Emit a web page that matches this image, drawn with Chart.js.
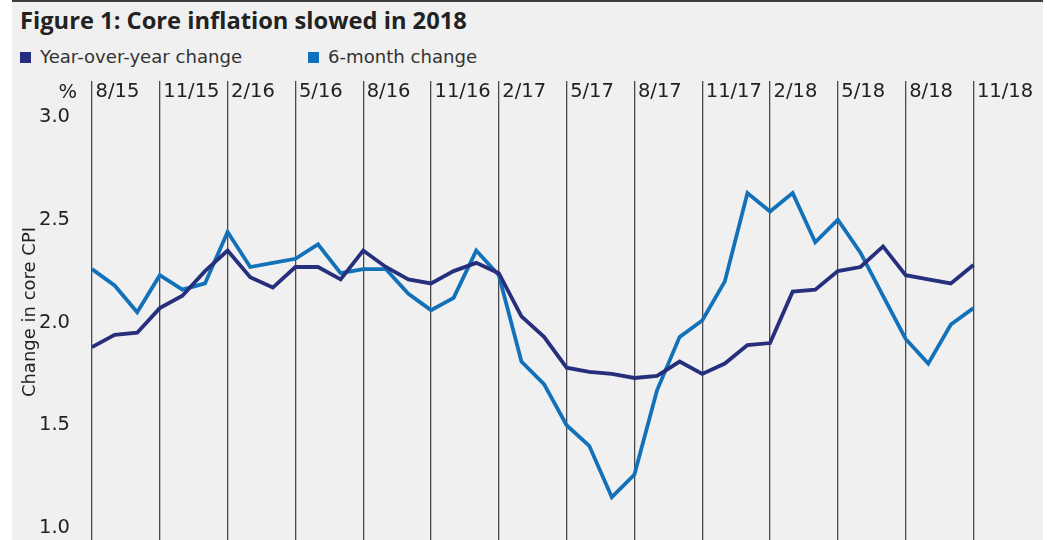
<!DOCTYPE html>
<html>
<head>
<meta charset="utf-8">
<script src="https://cdn.jsdelivr.net/npm/chart.js@4.4.1/dist/chart.umd.min.js"></script>
<style>
  body { margin: 0; width: 1047px; height: 540px; overflow: hidden; position: relative; background: #fff; font-family: "DejaVu Sans", sans-serif; }
  #panel { position: absolute; left: 12px; top: 0; width: 1031px; height: 540px; background: #f0f0f0; }
  #rule { position: absolute; left: 12px; top: 0; width: 1031px; height: 2px; background: #3d3d3d; }
  #title { position: absolute; left: 20px; top: 5px; font-family: "Open Sans", sans-serif; font-weight: bold; font-size: 23.7px; line-height: 30px; color: #222; white-space: nowrap; }
  .item { position: absolute; top: 47px; padding-left: 32px; font-size: 18.1px; line-height: 20px; color: #333; white-space: nowrap; }
  .sw { position: absolute; left: 12px; top: 5px; width: 11px; height: 11px; }
  #chart { position: absolute; left: 12px; top: 70px; }
</style>
</head>
<body>
<div id="panel"></div>
<div id="rule"></div>
<div id="title">Figure 1: Core inflation slowed in 2018</div>
<div class="item" style="left:8px;"><span class="sw" style="background:#232c7e;"></span>Year-over-year change</div>
<div class="item" style="left:296px;"><span class="sw" style="background:#1170bb;"></span>6-month change</div>
<canvas id="chart" width="1031" height="470"></canvas>
<script>
// monthly, 8/15 .. 11/18
var months = [
  "8/15", "9/15", "10/15", "11/15", "12/15",
  "1/16", "2/16", "3/16", "4/16", "5/16", "6/16", "7/16", "8/16", "9/16", "10/16", "11/16", "12/16",
  "1/17", "2/17", "3/17", "4/17", "5/17", "6/17", "7/17", "8/17", "9/17", "10/17", "11/17", "12/17",
  "1/18", "2/18", "3/18", "4/18", "5/18", "6/18", "7/18", "8/18", "9/18", "10/18", "11/18"
];

var yoyChange = [
  1.88, 1.94, 1.95, 2.07, 2.13, 2.25, 2.35, 2.22, 2.17, 2.27,
  2.27, 2.21, 2.35, 2.27, 2.21, 2.19, 2.25, 2.29, 2.24, 2.03,
  1.93, 1.78, 1.76, 1.75, 1.73, 1.74, 1.81, 1.75, 1.80, 1.89,
  1.90, 2.15, 2.16, 2.25, 2.27, 2.37, 2.23, 2.21, 2.19, 2.28
];

var sixMonthChange = [
  2.26, 2.18, 2.05, 2.23, 2.16, 2.19, 2.44, 2.27, 2.29, 2.31,
  2.38, 2.24, 2.26, 2.26, 2.14, 2.06, 2.12, 2.35, 2.23, 1.81,
  1.70, 1.50, 1.40, 1.15, 1.26, 1.67, 1.93, 2.01, 2.20, 2.63,
  2.54, 2.63, 2.39, 2.50, 2.34, 2.13, 1.92, 1.80, 1.99, 2.07
];

var yTitle = "Change in core CPI";
var unitLabel = "%";

function points(arr) {
  return arr.map(function (v, i) { return { x: i, y: v }; });
}

var tickFont = { family: "DejaVu Sans", size: 19.5 };

// "%" over the y labels and the rotated axis title
var axisText = {
  id: "axisText",
  afterDraw: function (chart) {
    var c = chart.ctx, a = chart.chartArea;
    c.save();
    c.fillStyle = "#222";
    c.font = "19.5px 'DejaVu Sans'";
    c.textAlign = "right";
    c.textBaseline = "middle";
    c.fillText(unitLabel, a.left - 15, a.top - 10.5);

    c.font = "18px 'DejaVu Sans'";
    c.translate(23, 242);
    c.rotate(-Math.PI / 2);
    c.textAlign = "center";
    c.textBaseline = "alphabetic";
    c.fillText(yTitle, 0, 0);
    c.restore();
  }
};

var ctx = document.getElementById("chart").getContext("2d");
var chart = new Chart(ctx, {
  type: "line",
  data: {
    datasets: [
      {
        label: "Year-over-year change",
        data: points(yoyChange),
        borderColor: "#262f7c",
        borderWidth: 3.8,
        pointRadius: 0,
        fill: false,
      },
      {
        label: "6-month change",
        data: points(sixMonthChange),
        borderColor: "#1271b8",
        borderWidth: 3.8,
        pointRadius: 0,
        fill: false,
      },
    ],
  },
  options: {
    responsive: false,
    animation: false,
    layout: { padding: { left: 0, right: 4, top: 0, bottom: 0 } },
    plugins: {
      legend: { display: false },
      title: { display: false },
      tooltip: { enabled: false },
    },
    scales: {
      x: {
        type: "linear",
        position: "top",
        min: 0,
        max: 41.9,
        afterFit: function (s) {
          s.height = 33;
          s.paddingLeft = 0;
          s.paddingRight = 0;
        },
        border: { display: false },
        grid: { color: "#4a4a4a", lineWidth: 1.3, tickLength: 22 },
        ticks: {
          stepSize: 3,
          includeBounds: false,
          autoSkip: false,
          maxRotation: 0,
          align: "start",
          labelOffset: 3.5,
          padding: -23,
          color: "#222",
          font: tickFont,
          callback: function (v) { return months[v]; },
        },
      },
      y: {
        min: 0.9416,
        max: 3.068,
        afterFit: function (s) {
          s.width = 80;
          s.paddingTop = 0;
          s.paddingBottom = 0;
        },
        border: { display: false },
        grid: { display: false },
        ticks: {
          stepSize: 0.5,
          includeBounds: false,
          padding: 14,
          color: "#222",
          font: tickFont,
          callback: function (v) { return v.toFixed(1); },
        },
      },
    },
  },
  plugins: [axisText],
});
</script>
</body>
</html>
